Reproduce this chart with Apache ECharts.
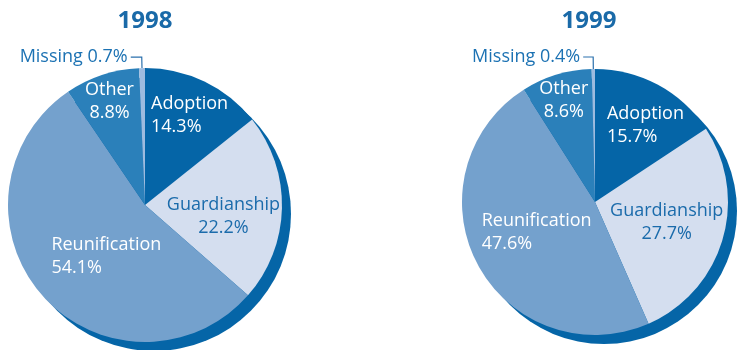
<!DOCTYPE html>
<html>
<head>
<meta charset="utf-8">
<script src="https://cdn.jsdelivr.net/npm/echarts@6/dist/echarts.min.js"></script>
<style>
  html, body { margin: 0; padding: 0; background: #fff; }
  #main { width: 739px; height: 350px; }
</style>
</head>
<body>
<div id="main"></div>
<script>
// 数据
const categories = ['Adoption', 'Guardianship', 'Reunification', 'Other', 'Missing'];
const years = ['1998', '1999'];
const values1998 = [14.3, 22.2, 54.1, 8.8, 0.7];
const values1999 = [15.7, 27.7, 47.6, 8.6, 0.4];

const sliceColors = ['#0565a7', '#d4deef', '#74a1cd', '#2b80ba', '#9dbbdf'];
const labelColors = ['#ffffff', '#1a6bab', '#ffffff', '#ffffff', '#1c72b3'];
const blue = '#1a6aa8';
const font = '"Open Sans", "Noto Sans", sans-serif';

// 每个饼图的位置和标签微调 [dx, dy, align]
const pies = [
  {
    year: years[0], values: values1998, center: [145, 205], radius: 137,
    offsets: [[-25, -25, 'left'], [7, 10, 'center'], [-40, 4, 'left'], [-13, -36, 'center']],
    line: [11, 11]
  },
  {
    year: years[1], values: values1999, center: [595, 202], radius: 133,
    offsets: [[-21, -15, 'left'], [5, 1, 'center'], [-52, -2, 'left'], [-11, -35, 'center']],
    line: [12, 10]
  }
];
const shadowOffset = [9, 9];

const chart = echarts.init(document.getElementById('main'));

let titles = [];
let series = [];
pies.forEach(p => {
  titles.push({
    text: p.year,
    left: p.center[0] - (p.year === '1999' ? 6 : 0),
    top: 9,
    padding: 0,
    textAlign: 'center',
    textStyle: { color: blue, fontSize: 24, fontWeight: 'bold', fontFamily: font, lineHeight: 24 }
  });
  // 阴影
  series.push({
    type: 'pie',
    silent: true,
    center: [p.center[0] + shadowOffset[0], p.center[1] + shadowOffset[1]],
    radius: p.radius,
    label: { show: false },
    labelLine: { show: false },
    itemStyle: { color: '#0565a7' },
    data: [{ value: 1, name: 'shadow' }]
  });
  series.push({
    type: 'pie',
    center: p.center,
    radius: p.radius,
    startAngle: 90,
    clockwise: true,
    avoidLabelOverlap: false,
    emphasis: { disabled: true },
    label: {
      show: true,
      position: 'inside',
      fontFamily: font,
      fontSize: 18,
      lineHeight: 23,
      formatter: params => params.name + '\n' + params.value.toFixed(1) + '%'
    },
    labelLine: { show: false },
    labelLayout: params => {
      const o = p.offsets[params.dataIndex];
      if (!o) return null;
      return { dx: o[0], dy: o[1], align: o[2], verticalAlign: 'middle' };
    },
    data: categories.map((c, i) => {
      let item = {
        name: c,
        value: p.values[i],
        itemStyle: { color: sliceColors[i] },
        label: { color: labelColors[i] }
      };
      if (c === 'Missing') {
        item.label = {
          position: 'outside',
          color: labelColors[i],
          distanceToLabelLine: 3,
          formatter: params => params.name + ' ' + params.value.toFixed(1) + '%'
        };
        item.labelLine = {
          show: true,
          length: p.line[0],
          length2: p.line[1],
          lineStyle: { color: '#2a70ad', width: 1.2 }
        };
      }
      return item;
    })
  });
});

chart.setOption({
  backgroundColor: '#ffffff',
  animation: false,
  title: titles,
  series: series
});
</script>
</body>
</html>
